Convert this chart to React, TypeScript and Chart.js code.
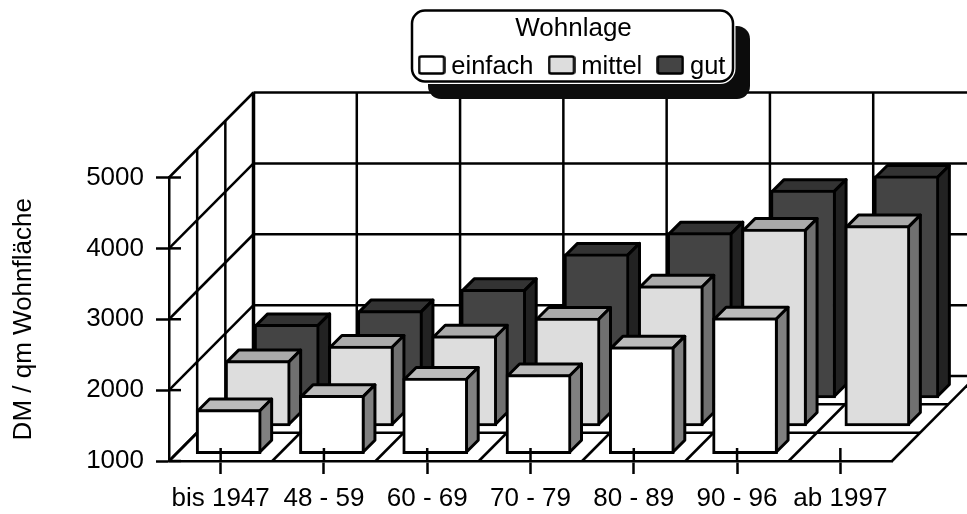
import React, { useEffect, useRef } from "react";
import { Chart, registerables } from "chart.js";

Chart.register(...registerables);

const categories = ["bis 1947", "48 - 59", "60 - 69", "70 - 79", "80 - 89", "90 - 96", "ab 1997"];
const einfach = [1630, 1830, 2075, 2125, 2515, 2925, null];
const mittel = [1930, 2135, 2280, 2530, 2985, 3785, 3835];
const gut = [2045, 2240, 2540, 3040, 3340, 3940, 4140];
const yTicks = [1000, 2000, 3000, 4000, 5000];

const names = ["einfach", "mittel", "gut"];
const fronts = ["#ffffff", "#dddddd", "#444444"];
const sides = ["#808080", "#707070", "#222222"];
const tops = ["#bbbbbb", "#aaaaaa", "#333333"];
const rowOffsetX = [8, 37, 66];
const rowOffsetY = [6.8, 34.5, 62.5];
const rowLines = [1 / 3, 2 / 3];
const BAR_DEPTH = 12;
const WALL_X = 84.5;
const WALL_Y = 85;
const LINE = 2.5;
const BAR_LINE = 3;
const FONT = "'Liberation Sans', Arial, sans-serif";

function line(ctx: CanvasRenderingContext2D, x1: number, y1: number, x2: number, y2: number, w = LINE) {
  ctx.beginPath();
  ctx.lineWidth = w;
  ctx.strokeStyle = "#000";
  ctx.moveTo(x1, y1);
  ctx.lineTo(x2, y2);
  ctx.stroke();
}

function swatch(color: string) {
  const c = document.createElement("canvas");
  c.width = 28;
  c.height = 24;
  const g = c.getContext("2d")!;
  g.fillStyle = color;
  g.strokeStyle = "#000";
  g.lineWidth = 2.5;
  g.beginPath();
  g.roundRect(1.5, 1.5, 25, 17, 2);
  g.fill();
  g.stroke();
  return c;
}

function roundBox(ctx: CanvasRenderingContext2D, x: number, y: number, w: number, h: number, r: number) {
  ctx.beginPath();
  ctx.roundRect(x, y, w, h, r);
}

const walls = {
  id: "walls",
  beforeDraw(chart: any) {
    const { ctx, scales } = chart;
    const xs = scales.x;
    const ys = scales.y;
    const y0 = ys.getPixelForValue(yTicks[0]);
    const yTop = ys.getPixelForValue(yTicks[yTicks.length - 1]);
    const n = categories.length;
    const step = xs.width / n;
    ctx.save();
    // floor rows and category diagonals
    for (const f of rowLines) {
      line(ctx, xs.left + WALL_X * f, y0 - WALL_Y * f, xs.right + WALL_X * f, y0 - WALL_Y * f);
    }
    for (let i = 0; i <= n; i++) {
      const px = xs.left + i * step;
      line(ctx, px, y0, px + WALL_X, y0 - WALL_Y);
    }
    // left wall verticals
    for (const f of rowLines) {
      line(ctx, xs.left + WALL_X * f, y0 - WALL_Y * f, xs.left + WALL_X * f, yTop - WALL_Y * f);
    }
    // left wall diagonals and back wall horizontals
    for (const t of yTicks) {
      const py = ys.getPixelForValue(t);
      line(ctx, xs.left, py, xs.left + WALL_X, py - WALL_Y);
      line(ctx, xs.left + WALL_X, py - WALL_Y, xs.right + WALL_X, py - WALL_Y);
    }
    // back wall verticals
    for (let i = 0; i <= n; i++) {
      const px = xs.left + WALL_X + i * step;
      line(ctx, px, y0 - WALL_Y, px, yTop - WALL_Y, i === 0 ? 3.5 : LINE);
    }
    // legend frame
    ctx.fillStyle = "#0c0c0c";
    roundBox(ctx, 428, 26, 322, 73, 13);
    ctx.fill();
    ctx.lineWidth = 5;
    ctx.strokeStyle = "#fff";
    roundBox(ctx, 412, 10.5, 321, 71, 13);
    ctx.stroke();
    ctx.fillStyle = "#fff";
    ctx.fill();
    ctx.lineWidth = 2.5;
    ctx.strokeStyle = "#000";
    ctx.stroke();
    ctx.restore();
    const lg = chart.legend;
    if (lg) {
      const h = lg.bottom - lg.top;
      lg.left = 314.5;
      lg.right = 835.5;
      lg.top = 12;
      lg.bottom = 12 + h;
      if (!lg.__titleShifted && lg.drawTitle) {
        const drawTitle = lg.drawTitle.bind(lg);
        lg.drawTitle = () => {
          lg.left -= 1.5;
          lg.right -= 1.5;
          drawTitle();
          lg.left += 1.5;
          lg.right += 1.5;
        };
        lg.__titleShifted = true;
      }
    }
  },
  beforeDatasetDraw(chart: any, args: any) {
    const { ctx } = chart;
    const i = args.index;
    ctx.save();
    ctx.translate(rowOffsetX[i], -rowOffsetY[i]);
    ctx.lineWidth = BAR_LINE;
    ctx.strokeStyle = "#000";
    ctx.lineJoin = "round";
    const values = chart.data.datasets[i].data;
    args.meta.data.forEach((el: any, j: number) => {
      if (values[j] == null) return;
      const l = el.x - el.width / 2 + 1.5;
      const r = el.x + el.width / 2 - 1.5;
      const t = el.y + 1.5;
      const b = el.base - 1.5;
      ctx.beginPath();
      ctx.moveTo(l, t);
      ctx.lineTo(l + BAR_DEPTH, t - BAR_DEPTH);
      ctx.lineTo(r + BAR_DEPTH, t - BAR_DEPTH);
      ctx.lineTo(r, t);
      ctx.closePath();
      ctx.fillStyle = tops[i];
      ctx.fill();
      ctx.stroke();
      ctx.beginPath();
      ctx.moveTo(r, t);
      ctx.lineTo(r + BAR_DEPTH, t - BAR_DEPTH);
      ctx.lineTo(r + BAR_DEPTH, b - BAR_DEPTH);
      ctx.lineTo(r, b);
      ctx.closePath();
      ctx.fillStyle = sides[i];
      ctx.fill();
      ctx.stroke();
    });
  },
  afterDatasetDraw(chart: any) {
    chart.ctx.restore();
  },
  afterDatasetsDraw(chart: any) {
    const { ctx, scales } = chart;
    ctx.save();
    const xs = scales.x;
    const ys = scales.y;
    categories.forEach((_, i) => {
      const px = xs.getPixelForValue(i);
      line(ctx, px, ys.bottom, px, ys.bottom - 13);
    });
    yTicks.forEach((t) => {
      const py = ys.getPixelForValue(t);
      line(ctx, xs.left, py, xs.left + 12, py);
    });
    ctx.restore();
  },
};

export default function App() {
  const ref = useRef<HTMLCanvasElement>(null);
  useEffect(() => {
    document.body.style.margin = "0";
    document.body.style.background = "#fff";
    const series = [einfach, mittel, gut];
    const chart = new Chart(ref.current!, {
      type: "bar",
      data: {
        labels: categories,
        datasets: series.map((data, i) => ({
          label: names[i],
          data,
          base: yTicks[0],
          grouped: false,
          barThickness: 65,
          backgroundColor: fronts[i],
          borderColor: "#000",
          borderWidth: BAR_LINE,
          borderSkipped: false,
          clip: false,
        })) as any,
      },
      plugins: [walls],
      options: {
        animation: false,
        responsive: false,
        devicePixelRatio: 1,
        font: { family: FONT },
        layout: { padding: { top: 60, right: 75, left: 0, bottom: 0 } },
        plugins: {
          tooltip: { enabled: false },
          legend: {
            position: "top",
            align: "center",
            title: {
              display: true,
              text: "Wohnlage",
              color: "#000",
              font: { family: FONT, size: 26 },
              padding: { top: 4, bottom: -14 },
            },
            labels: {
              color: "#000",
              font: { family: FONT, size: 25.5 },
              usePointStyle: true,
              boxWidth: 14,
              boxHeight: 14,
              padding: 21,
              generateLabels: () =>
                names.map((t, i) => ({
                  text: t,
                  pointStyle: swatch(fronts[i]),
                  datasetIndex: i,
                  hidden: false,
                  fontColor: "#000",
                  lineWidth: 0,
                })),
            },
          },
        },
        scales: {
          x: {
            type: "category",
            offset: true,
            afterFit: (s: any) => {
              s.height = 53;
            },
            grid: {
              offset: false,
              drawOnChartArea: false,
              color: "#000",
              tickColor: "#000",
              tickLength: 13,
              tickWidth: LINE,
            },
            border: { color: "#000", width: LINE },
            ticks: {
              color: "#000",
              autoSkip: false,
              maxRotation: 0,
              padding: 9,
              font: { family: FONT, size: 26 },
            },
          },
          y: {
            type: "linear",
            min: yTicks[0],
            max: yTicks[yTicks.length - 1],
            afterFit: (s: any) => {
              s.width = 169;
            },
            grid: {
              drawOnChartArea: false,
              color: "#000",
              tickColor: "#000",
              tickLength: 13,
              tickWidth: LINE,
            },
            border: { color: "#000", width: LINE },
            ticks: {
              color: "#000",
              stepSize: 1000,
              padding: 12,
              callback: (v: any) => String(v),
              font: { family: FONT, size: 26 },
            },
            title: {
              display: true,
              text: "DM / qm Wohnfläche",
              color: "#000",
              font: { family: FONT, size: 26 },
              padding: { top: 8, bottom: 0 },
            },
          },
        },
      } as any,
    });
    const delta = 177.5 - chart.chartArea.top;
    (chart.options.layout as any).padding.top = 60 + delta;
    chart.update();
    return () => chart.destroy();
  }, []);
  return <canvas ref={ref} width={967} height={514} style={{ display: "block" }} />;
}
